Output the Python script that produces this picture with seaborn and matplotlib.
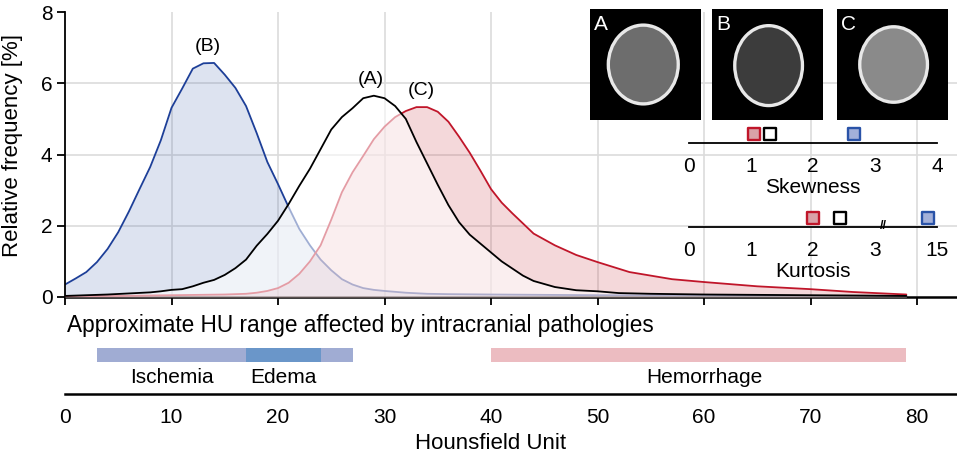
import numpy as np
import pandas as pd
import matplotlib
matplotlib.use("Agg")
import matplotlib.pyplot as plt
import seaborn as sns
from matplotlib.patches import Ellipse

# ---------------- data ----------------
hu_a = [0, 2, 4, 6, 8, 9, 10, 11, 12, 13, 14, 15, 16, 17, 18, 19, 20, 21, 22, 23, 24, 25,
        26, 27, 28, 29, 30, 31, 32, 33, 34, 35, 36, 37, 38, 39, 40, 41, 42, 43, 44, 46,
        48, 50, 52, 55, 60, 65, 70, 75, 79]
freq_a = [0.03, 0.05, 0.07, 0.10, 0.13, 0.16, 0.20, 0.22, 0.30, 0.40, 0.48, 0.62, 0.81,
          1.05, 1.44, 1.77, 2.14, 2.61, 3.12, 3.60, 4.15, 4.70, 5.05, 5.30, 5.58, 5.65,
          5.58, 5.36, 5.00, 4.35, 3.75, 3.15, 2.58, 2.10, 1.75, 1.50, 1.25, 1.00, 0.80,
          0.60, 0.45, 0.28, 0.19, 0.16, 0.11, 0.09, 0.07, 0.06, 0.05, 0.04, 0.03]

hu_b = [0, 1, 2, 3, 4, 5, 6, 7, 8, 9, 10, 11, 12, 13, 14, 15, 16, 17, 18, 19, 20, 21, 22,
        23, 24, 25, 26, 27, 28, 29, 30, 32, 34, 36, 40, 50, 60, 70, 79]
freq_b = [0.35, 0.52, 0.70, 0.98, 1.35, 1.82, 2.40, 3.03, 3.65, 4.40, 5.31, 5.85, 6.41,
          6.56, 6.57, 6.24, 5.87, 5.36, 4.60, 3.79, 3.17, 2.52, 1.91, 1.45, 1.05, 0.75,
          0.50, 0.35, 0.25, 0.20, 0.17, 0.12, 0.09, 0.08, 0.07, 0.05, 0.04, 0.03, 0.02]

hu_c = [0, 5, 10, 15, 17, 18, 19, 20, 21, 22, 23, 24, 25, 26, 27, 28, 29, 30, 31, 32, 33,
        34, 35, 36, 37, 38, 39, 40, 41, 42, 44, 46, 48, 50, 53, 57, 60, 65, 70, 74, 79]
freq_c = [0.02, 0.03, 0.05, 0.07, 0.09, 0.12, 0.17, 0.25, 0.40, 0.65, 1.00, 1.45, 2.17,
          2.94, 3.50, 3.96, 4.43, 4.78, 5.05, 5.22, 5.33, 5.33, 5.20, 4.92, 4.50, 4.05,
          3.55, 3.03, 2.65, 2.35, 1.78, 1.45, 1.18, 0.98, 0.70, 0.50, 0.42, 0.30, 0.22,
          0.14, 0.07]

curve_labels = ["(A)", "(B)", "(C)"]
label_hu = [28.7, 13.4, 33.5]
label_freq = [6.1, 7.04, 5.81]

hu_ticks = [0, 10, 20, 30, 40, 50, 60, 70, 80]
freq_ticks = [0, 2, 4, 6, 8]

# statistics inset (order: C, A, B)
stat_series = ["C", "A", "B"]
skewness = [1.05, 1.31, 2.66]
kurtosis = [2.0, 2.44, 13.3]
skew_ticks = [0, 1, 2, 3, 4]
kurt_ticks = [0, 1, 2, 3, 15]

# pathology ranges (HU)
path_names = ["Ischemia", "Edema", "Hemorrhage"]
path_start = [3, 17, 40]
path_end = [27, 24, 79]
path_label_hu = [10, 20.5, 60]

# ---------------- style ----------------
sns.set_theme(style="white")
plt.rcParams['font.family'] = ['Liberation Sans', 'DejaVu Sans']
plt.rcParams['text.color'] = 'black'
plt.rcParams['axes.labelcolor'] = 'black'
plt.rcParams['xtick.color'] = 'black'
plt.rcParams['ytick.color'] = 'black'

BLUE = "#1d3f98"
RED = "#c0162a"
W, H = 957, 461
XMAX = (W - 65) / 10.65


def px(x0, y0, x1, y1):
    return [x0 / W, 1 - y1 / H, (x1 - x0) / W, (y1 - y0) / H]


fig = plt.figure(figsize=(W / 100, H / 100), dpi=100)

# ---------------- main distribution plot ----------------
ax = fig.add_axes(px(65, 12, W, 297))
ax.set_xlim(0, XMAX)
ax.set_ylim(0, 8)

df_a = pd.DataFrame({"HU": hu_a, "freq": freq_a})
df_b = pd.DataFrame({"HU": hu_b, "freq": freq_b})
df_c = pd.DataFrame({"HU": hu_c, "freq": freq_c})

ax.fill_between(df_b.HU, df_b.freq, 0, color="#3a5aa8", alpha=0.17, lw=0, zorder=1)
sns.lineplot(data=df_b, x="HU", y="freq", ax=ax, color=BLUE, lw=1.3, zorder=2)
ax.fill_between(df_c.HU, df_c.freq, 0, color="#c83c46", alpha=0.2, lw=0, zorder=3)
sns.lineplot(data=df_c, x="HU", y="freq", ax=ax, color=RED, lw=1.3, zorder=4)
ax.fill_between(df_a.HU, df_a.freq, 0, color="white", alpha=0.58, lw=0, zorder=5)
sns.lineplot(data=df_a, x="HU", y="freq", ax=ax, color="black", lw=1.3, zorder=6)

for t, xx, yy in zip(curve_labels, label_hu, label_freq):
    ax.text(xx, yy, t, ha="center", va="center", fontsize=14, zorder=7)

ax.set_xticks(hu_ticks)
ax.set_xticklabels([])
ax.set_yticks(freq_ticks)
ax.set_yticklabels([str(v) for v in freq_ticks], fontsize=15)
ax.grid(True, color="#dcdcdc", lw=1.2, zorder=0)
ax.set_axisbelow(True)
ax.get_ygridlines()[-1].set_visible(False)
ax.get_ygridlines()[0].set_visible(False)
ax.get_xgridlines()[0].set_visible(False)
for s in ["top", "right"]:
    ax.spines[s].set_visible(False)
ax.spines["left"].set_color("black")
ax.spines["left"].set_linewidth(1.3)
ax.spines["bottom"].set_color("black")
ax.spines["bottom"].set_linewidth(1.8)
ax.tick_params(axis="both", direction="out", length=6, width=1.3, color="black",
               bottom=True, left=True, pad=3)
ax.set_xlabel("")
ax.set_ylabel("Relative frequency [%]", fontsize=16)
ax.yaxis.set_label_coords(-0.047, 0.53)
ax.patch.set_alpha(0)

# ---------------- CT image placeholders ----------------
img_boxes = [(590, 9, 701, 120), (712, 9, 823, 120), (837, 9, 948, 120)]
brain_gray = ["#6d6d6d", "#3c3c3c", "#8a8a8a"]
head_geom = [(0.48, 0.50, 0.66, 0.74), (0.51, 0.49, 0.64, 0.75), (0.51, 0.50, 0.64, 0.71)]
for name, box, g, (cx, cy, ew, eh) in zip(["A", "B", "C"], img_boxes, brain_gray, head_geom):
    iax = fig.add_axes(px(*box))
    iax.set_facecolor("black")
    iax.set_xlim(0, 1)
    iax.set_ylim(0, 1)
    iax.set_xticks([])
    iax.set_yticks([])
    for s in iax.spines.values():
        s.set_visible(False)
    iax.add_patch(Ellipse((cx, cy), ew, eh, facecolor="#e8e8e8", edgecolor="none"))
    iax.add_patch(Ellipse((cx, cy), ew - 0.06, eh - 0.06, facecolor=g, edgecolor="none"))
    iax.text(0.04, 0.95, name, color="white", fontsize=15, ha="left", va="top")

# ---------------- skewness / kurtosis scales ----------------
face_cols = ["#d9a2a8", "white", "#a3b0d9"]
edge_cols = [RED, "black", "#2a53a8"]


def stat_axis(box, values, ticks, ticklabels, label):
    sax = fig.add_axes(px(*box))
    sax.patch.set_alpha(0)
    sax.set_xlim(0, 4)
    sax.set_ylim(0, 1)
    for xv, fc, ec in zip(values, face_cols, edge_cols):
        sns.scatterplot(x=[xv], y=[0.5], ax=sax, marker="s", s=85, color=fc,
                        edgecolor=ec, linewidth=1.7, zorder=3, clip_on=False)
    for s in ["top", "right", "left"]:
        sax.spines[s].set_visible(False)
    sax.spines["bottom"].set_color("black")
    sax.spines["bottom"].set_linewidth(1.3)
    sax.set_xticks(ticks)
    sax.set_xticklabels(ticklabels, fontsize=15)
    sax.set_yticks([])
    sax.tick_params(axis="x", direction="out", length=6, width=1.3, color="black", pad=4)
    sax.set_xlabel(label, fontsize=15, labelpad=1)
    sax.set_ylabel("")
    return sax


stat_axis((689, 125, 937, 143.5), skewness, skew_ticks, [str(t) for t in skew_ticks],
          "Skewness")
kpos = np.interp(kurtosis, kurt_ticks, np.arange(len(kurt_ticks)))
kax = stat_axis((689, 209, 937, 227.5), kpos, np.arange(len(kurt_ticks)),
                [str(t) for t in kurt_ticks], "Kurtosis")
kax.text(3.14, 0.1, "//", fontsize=9, ha="center", va="center", fontweight="bold")

# ---------------- pathology ranges ----------------
bax = fig.add_axes(px(65, 305, W, 394))
bax.patch.set_alpha(0)
bax.set_xlim(0, XMAX)
bax.set_ylim(0, 89)
bar_cols = ["#a0acd3", "#6a96c9", "#ecbcc1"]
bax.barh(y=[39.3] * 3, width=np.array(path_end) - np.array(path_start), left=path_start,
         height=14, color=bar_cols, edgecolor="none")
for n, xx in zip(path_names, path_label_hu):
    bax.text(xx, 10.7, n, ha="center", va="baseline", fontsize=15)
bax.text(0.15, 62.3, "Approximate HU range affected by intracranial pathologies",
         ha="left", va="baseline", fontsize=16.3)
for s in ["top", "right", "left"]:
    bax.spines[s].set_visible(False)
bax.spines["bottom"].set_color("black")
bax.spines["bottom"].set_linewidth(1.8)
bax.set_xticks(hu_ticks)
bax.set_xticklabels([str(t) for t in hu_ticks], fontsize=15)
bax.set_yticks([])
bax.tick_params(axis="x", direction="out", length=6, width=1.3, color="black", pad=4)
bax.set_xlabel("Hounsfield Unit", fontsize=16)
bax.xaxis.set_label_coords(40 / XMAX, -0.44)

fig.savefig("out.png", dpi=100)
